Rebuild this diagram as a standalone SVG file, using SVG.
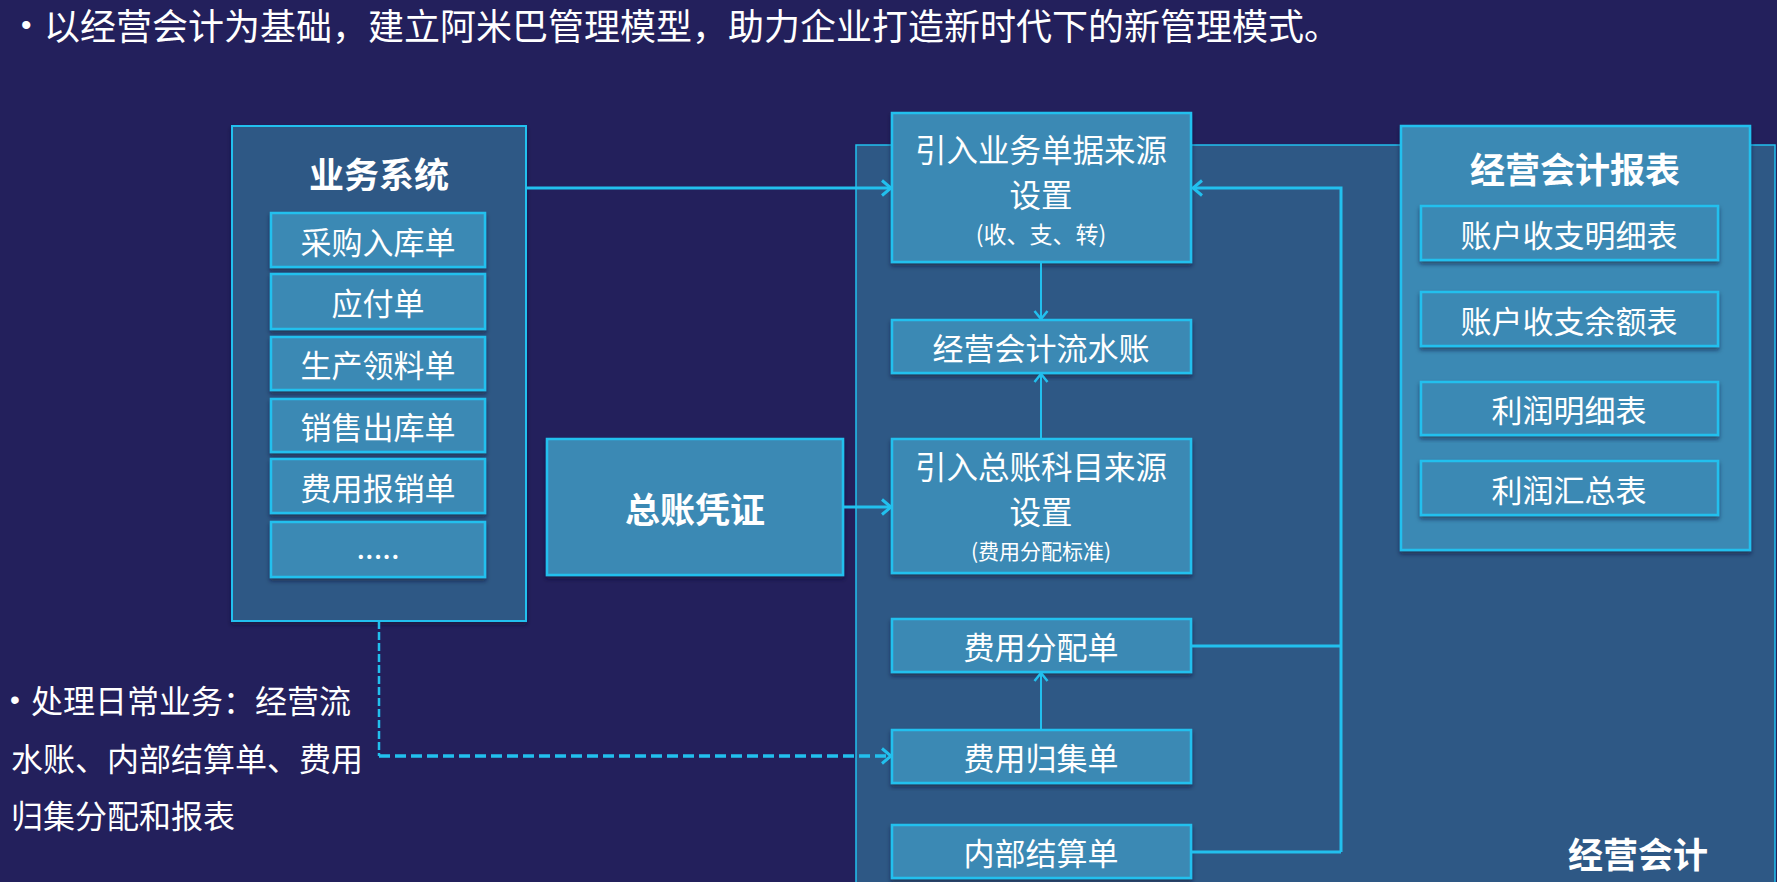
<svg xmlns="http://www.w3.org/2000/svg" width="1777" height="882" viewBox="0 0 1777 882">
<defs>
<style>
.t{font-family:"Noto Sans CJK SC","Noto Sans",sans-serif;fill:#ffffff;text-anchor:middle;dominant-baseline:central}
.l{text-anchor:start}
.bul{font-family:"Liberation Sans","DejaVu Sans",sans-serif;fill:#ffffff;dominant-baseline:central}
.b{font-weight:bold;font-size:35px}
.n{font-size:31px}
.s{font-size:23px}
.dark{fill:#2E5885;stroke:#22C0EE;stroke-width:2}
.lite{fill:#3B89B4;stroke:#22C0EE;stroke-width:2.5}
.ln{fill:none;stroke:#22C0EE;stroke-width:3}
.thin{fill:none;stroke:#22C0EE;stroke-width:2}
</style>
<filter id="sh" x="-5%" y="-5%" width="110%" height="120%">
<feDropShadow dx="0" dy="3" stdDeviation="2" flood-color="#0a1030" flood-opacity="0.55"/>
</filter>
<marker id="ar" viewBox="0 0 14 18" refX="12" refY="9" markerWidth="14" markerHeight="18" markerUnits="userSpaceOnUse" orient="auto">
<path d="M3 1.5 L12 9 L3 16.5" fill="none" stroke="#22C0EE" stroke-width="3"/>
</marker>
<marker id="art" viewBox="0 0 12 16" refX="10" refY="8" markerWidth="12" markerHeight="16" markerUnits="userSpaceOnUse" orient="auto">
<path d="M2 1.5 L10 8 L2 14.5" fill="none" stroke="#22C0EE" stroke-width="2.5"/>
</marker>
</defs>
<rect x="0" y="0" width="1777" height="882" fill="#23205C"/>

<g id="title">
<text x="21" y="24" class="bul" style="font-size:30px">•</text>
<text x="44" y="24" class="t l" style="font-size:36px">以经营会计为基础，建立阿米巴管理模型，助力企业打造新时代下的新管理模式。</text>
</g>

<g id="jyjk-container">
<rect x="856" y="145" width="919" height="760" fill="#2E5885" stroke="#22C0EE" stroke-width="1.5"/>
<text x="1638" y="852" class="t b">经营会计</text>
</g>

<g id="ywxt">
<rect x="232" y="126" width="294" height="495" class="dark" filter="url(#sh)"/>
<text x="379" y="172" class="t b">业务系统</text>
<rect x="271" y="213" width="214" height="54" class="lite" filter="url(#sh)"/>
<text x="378" y="240" class="t n">采购入库单</text>
<rect x="271" y="274" width="214" height="55" class="lite" filter="url(#sh)"/>
<text x="378" y="301" class="t n">应付单</text>
<rect x="271" y="337" width="214" height="53" class="lite" filter="url(#sh)"/>
<text x="378" y="363" class="t n">生产领料单</text>
<rect x="271" y="399" width="214" height="53" class="lite" filter="url(#sh)"/>
<text x="378" y="425" class="t n">销售出库单</text>
<rect x="271" y="459" width="214" height="54" class="lite" filter="url(#sh)"/>
<text x="378" y="486" class="t n">费用报销单</text>
<rect x="271" y="522" width="214" height="55" class="lite" filter="url(#sh)"/>
<text x="378" y="545" class="t n">.....</text>
</g>

<g id="zzpz">
<rect x="547" y="439" width="296" height="136" class="lite" filter="url(#sh)"/>
<text x="695" y="507" class="t b">总账凭证</text>
</g>

<g id="ywdj">
<rect x="892" y="113" width="299" height="149" class="lite" filter="url(#sh)"/>
<text x="1041" y="148" class="t" style="font-size:31.5px">引入业务单据来源</text>
<text x="1041" y="193" class="t" style="font-size:31.5px">设置</text>
<text x="1041" y="233" class="t s">(收、支、转)</text>
</g>

<g id="lsz">
<rect x="892" y="320" width="299" height="53" class="lite" filter="url(#sh)"/>
<text x="1041" y="346" class="t n">经营会计流水账</text>
</g>

<g id="zzkm">
<rect x="892" y="439" width="299" height="134" class="lite" filter="url(#sh)"/>
<text x="1041" y="465" class="t" style="font-size:31.5px">引入总账科目来源</text>
<text x="1041" y="510" class="t" style="font-size:31.5px">设置</text>
<text x="1041" y="550" class="t" style="font-size:21px">(费用分配标准)</text>
</g>

<g id="fyfp">
<rect x="892" y="619" width="299" height="53" class="lite" filter="url(#sh)"/>
<text x="1041" y="645" class="t n">费用分配单</text>
</g>

<g id="fygj">
<rect x="892" y="730" width="299" height="53" class="lite" filter="url(#sh)"/>
<text x="1041" y="756" class="t n">费用归集单</text>
</g>

<g id="nbjs">
<rect x="892" y="825" width="299" height="53" class="lite" filter="url(#sh)"/>
<text x="1041" y="851" class="t n">内部结算单</text>
</g>

<g id="bb">
<rect x="1401" y="126" width="349" height="424" class="lite" stroke-width="2" filter="url(#sh)"/>
<text x="1575" y="167" class="t b">经营会计报表</text>
<rect x="1421" y="206" width="297" height="54" class="lite" filter="url(#sh)"/>
<text x="1569" y="233" class="t n">账户收支明细表</text>
<rect x="1421" y="292" width="297" height="54" class="lite" filter="url(#sh)"/>
<text x="1569" y="319" class="t n">账户收支余额表</text>
<rect x="1421" y="382" width="297" height="53" class="lite" filter="url(#sh)"/>
<text x="1569" y="408" class="t n">利润明细表</text>
<rect x="1421" y="461" width="297" height="54" class="lite" filter="url(#sh)"/>
<text x="1569" y="488" class="t n">利润汇总表</text>
</g>

<g id="note">
<text x="10" y="699" class="bul" style="font-size:28px">•</text>
<text x="31" y="699" class="t l" style="font-size:32px">处理日常业务：经营流</text>
<text x="11" y="757" class="t l" style="font-size:32px">水账、内部结算单、费用</text>
<text x="11" y="814" class="t l" style="font-size:32px">归集分配和报表</text>
</g>

<g id="connectors">
<path d="M526 188 H891" class="ln" marker-end="url(#ar)"/>
<path d="M1041 262 V319" class="thin" marker-end="url(#art)"/>
<path d="M1041 439 V374" class="thin" marker-end="url(#art)"/>
<path d="M843 507 H891" class="ln" marker-end="url(#ar)"/>
<path d="M1041 730 V673" class="thin" marker-end="url(#art)"/>
<path d="M379 621 V756" fill="none" stroke="#22C0EE" stroke-width="2.5" stroke-dasharray="8 3"/>
<path d="M379 756 H891" fill="none" stroke="#22C0EE" stroke-width="3.5" stroke-dasharray="11 5" marker-end="url(#ar)"/>
<path d="M1191 646 H1341" class="ln" stroke-width="4"/>
<path d="M1191 852 H1341" class="ln" stroke-width="4"/>
<path d="M1341 852 V188 H1193" class="ln" marker-end="url(#ar)"/>
</g>
</svg>
